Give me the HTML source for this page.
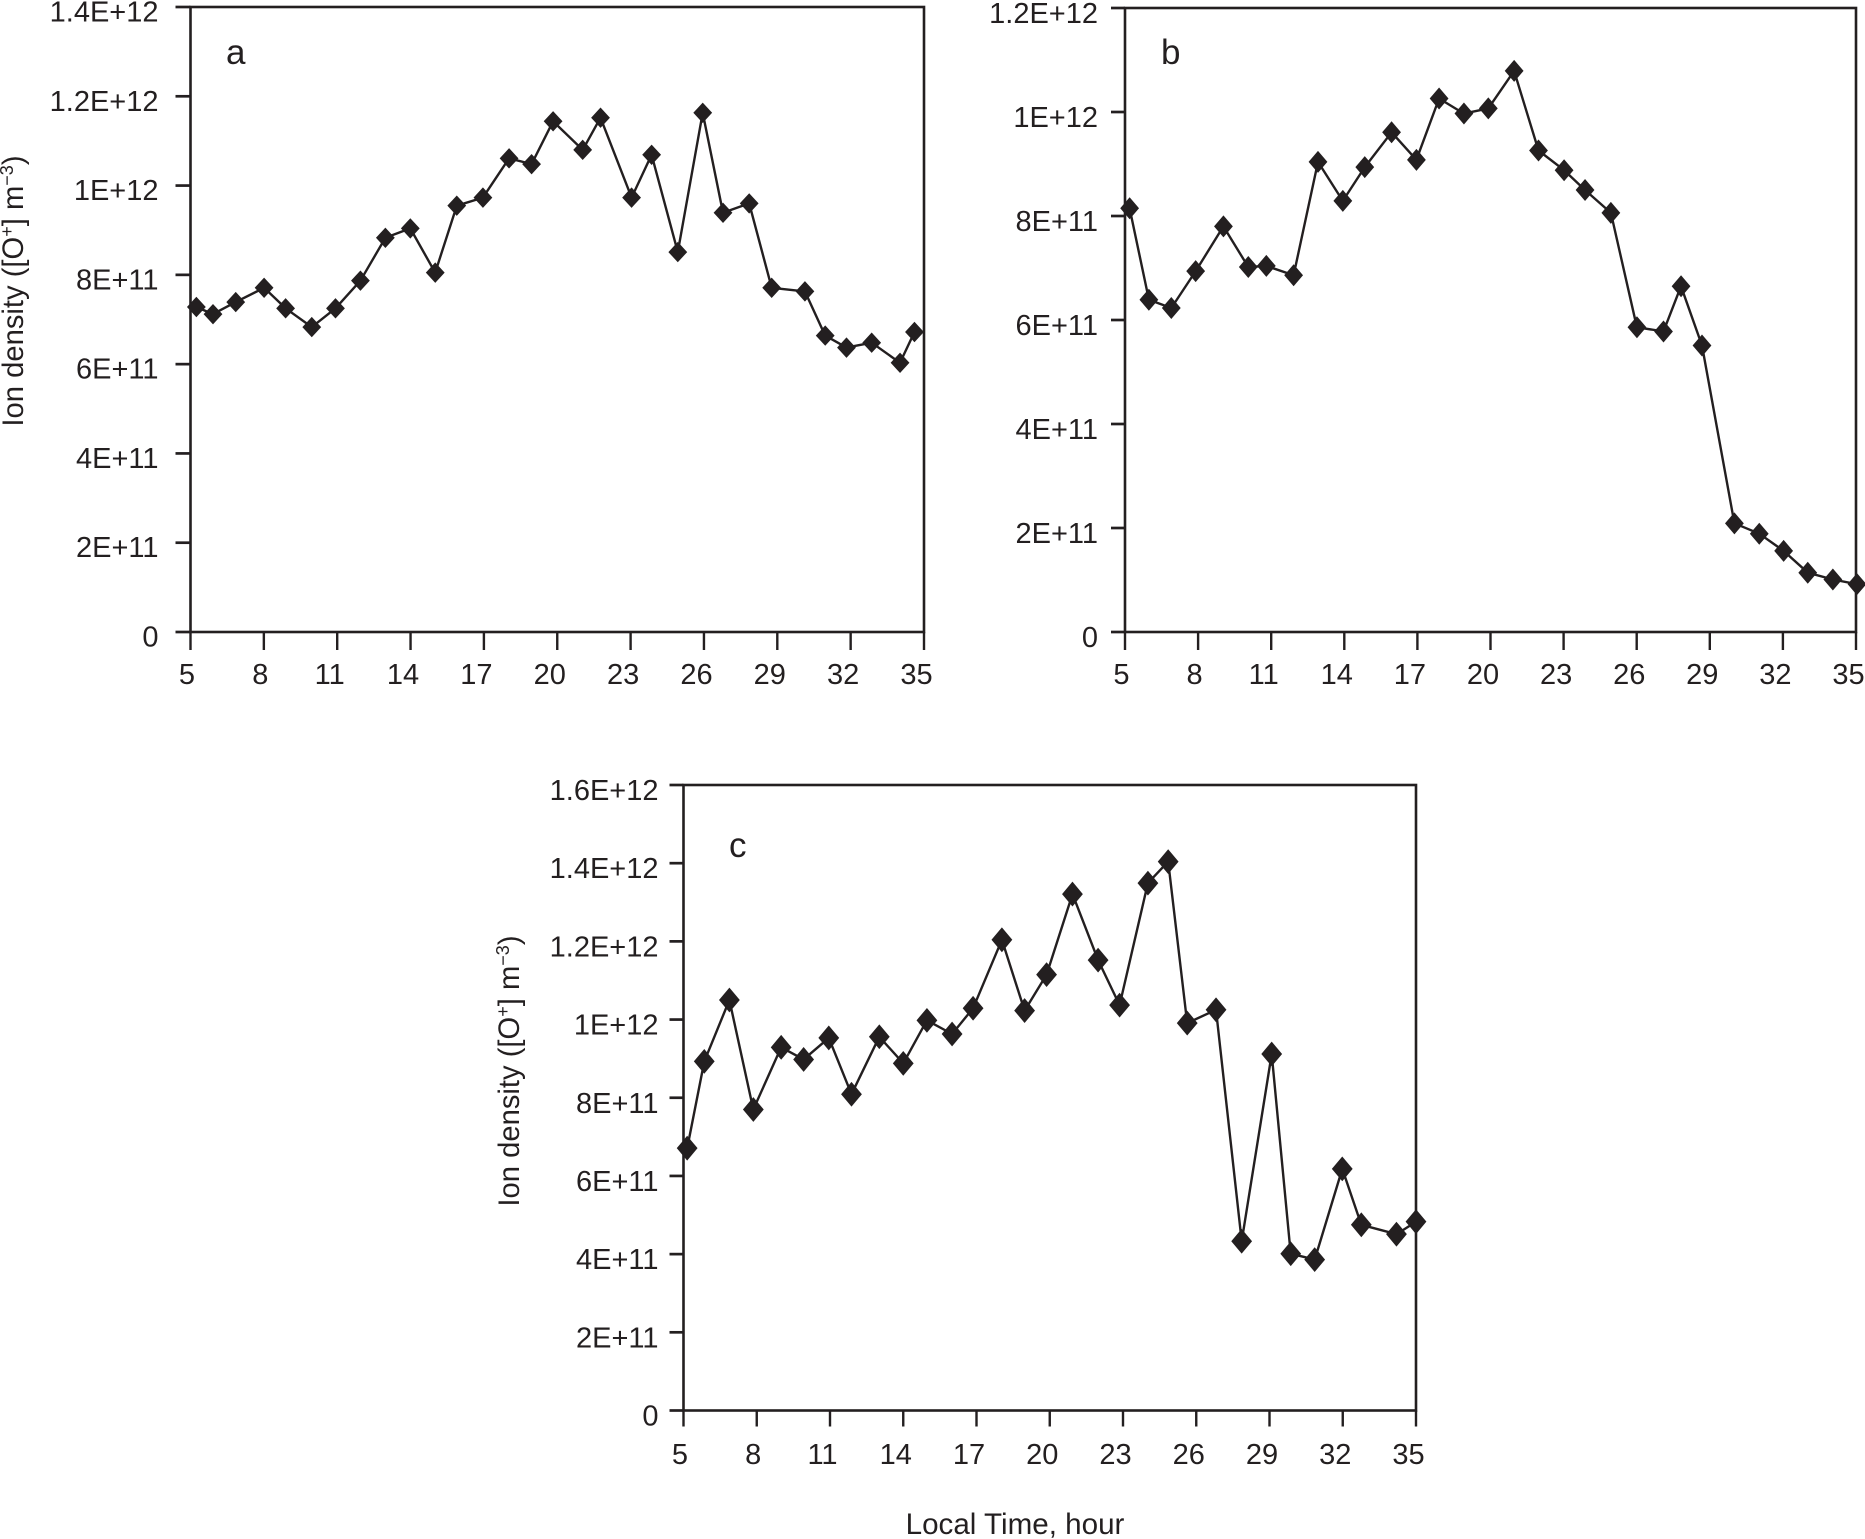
<!DOCTYPE html>
<html lang="en">
<head>
<meta charset="utf-8">
<title>Ion density vs local time</title>
<style>
html,body{margin:0;padding:0;background:#fff;width:1865px;height:1539px;overflow:hidden}
svg{display:block;font-family:"Liberation Sans",Arial,sans-serif;fill:#231f20}
text{fill:#231f20}
</style>
</head>
<body>
<svg id="figure" xmlns="http://www.w3.org/2000/svg" width="1865" height="1539" viewBox="0 0 1865 1539">
<rect x="0" y="0" width="1865" height="1539" fill="#fff"/>
<text transform="translate(23,291) rotate(-90)" text-anchor="middle" font-size="29.2">Ion density ([O<tspan font-size="18" dy="-10">+</tspan><tspan dy="10">] m</tspan><tspan font-size="18" dy="-10">−3</tspan><tspan dy="10">)</tspan></text>
<text transform="translate(519,1071) rotate(-90)" text-anchor="middle" font-size="29.2">Ion density ([O<tspan font-size="18" dy="-10">+</tspan><tspan dy="10">] m</tspan><tspan font-size="18" dy="-10">−3</tspan><tspan dy="10">)</tspan></text>
<text x="1015" y="1534" text-anchor="middle" font-size="29.6">Local Time, hour</text>
<text x="226" y="64" font-size="35">a</text>
<text x="1161" y="64" font-size="35">b</text>
<text x="729" y="857" font-size="35">c</text>
</svg>
<script>
// Shared x axis
const xTicks = [5, 8, 11, 14, 17, 20, 23, 26, 29, 32, 35];
const xTickLabels = ["5", "8", "11", "14", "17", "20", "23", "26", "29", "32", "35"];

// Panel a (density in units of 1E+11 per m3)
const hoursA = [5.24, 5.92, 6.85, 8.01, 8.89, 9.96, 10.93, 11.95, 12.97, 13.99, 15.01, 15.89, 16.96, 18.03, 18.95, 19.83, 21.04, 21.77, 23.04, 23.86, 24.93, 25.95, 26.78, 27.85, 28.77, 30.13, 30.96, 31.83, 32.86, 34.02, 34.61];
const densityA = [7.28, 7.12, 7.39, 7.71, 7.25, 6.83, 7.25, 7.87, 8.83, 9.04, 8.05, 9.55, 9.73, 10.61, 10.48, 11.44, 10.8, 11.52, 9.73, 10.69, 8.51, 11.63, 9.39, 9.6, 7.71, 7.63, 6.64, 6.37, 6.48, 6.03, 6.72];
const yTicksA = [0, 2, 4, 6, 8, 10, 12, 14];
const yTickLabelsA = ["0", "2E+11", "4E+11", "6E+11", "8E+11", "1E+12", "1.2E+12", "1.4E+12"];

// Panel b
const hoursB = [5.19, 5.98, 6.9, 7.9, 9.04, 10.06, 10.8, 11.92, 12.92, 13.94, 14.84, 15.94, 16.96, 17.89, 18.91, 19.91, 20.97, 21.97, 23.02, 23.88, 24.94, 26.01, 27.1, 27.82, 28.68, 30.01, 31.03, 32.03, 33.02, 34.05, 35.04];
const densityB = [8.15, 6.39, 6.23, 6.94, 7.8, 7.02, 7.04, 6.86, 9.04, 8.29, 8.94, 9.61, 9.08, 10.26, 9.97, 10.07, 10.79, 9.26, 8.88, 8.5, 8.06, 5.86, 5.78, 6.65, 5.51, 2.09, 1.89, 1.56, 1.14, 1.01, 0.92];
const yTicksB = [0, 2, 4, 6, 8, 10, 12];
const yTickLabelsB = ["0", "2E+11", "4E+11", "6E+11", "8E+11", "1E+12", "1.2E+12"];

// Panel c
const hoursC = [5.15, 5.85, 6.88, 7.86, 9, 9.92, 10.95, 11.88, 13.02, 14, 14.97, 16, 16.86, 18.04, 18.97, 19.87, 20.93, 21.98, 22.86, 24.02, 24.85, 25.63, 26.81, 27.86, 29.09, 29.87, 30.85, 31.98, 32.76, 34.2, 35];
const densityC = [6.71, 8.93, 10.5, 7.7, 9.29, 8.98, 9.53, 8.09, 9.56, 8.88, 9.98, 9.63, 10.29, 12.04, 10.23, 11.15, 13.21, 11.52, 10.37, 13.49, 14.04, 9.91, 10.25, 4.33, 9.12, 4.01, 3.86, 6.18, 4.75, 4.51, 4.83];
const yTicksC = [0, 2, 4, 6, 8, 10, 12, 14, 16];
const yTickLabelsC = ["0", "2E+11", "4E+11", "6E+11", "8E+11", "1E+12", "1.2E+12", "1.4E+12", "1.6E+12"];

const SVG_NS = "http://www.w3.org/2000/svg";
const INK = "#231f20";
const figure = document.getElementById("figure");

function make(parent, tag, attrs) {
  const el = document.createElementNS(SVG_NS, tag);
  for (const k in attrs) el.setAttribute(k, attrs[k]);
  parent.appendChild(el);
  return el;
}

function drawPanel(id, box, hours, density, yTicks, yTickLabels, mark) {
  const g = make(figure, "g", {});
  
  

  const xMin = xTicks[0], xMax = xTicks[xTicks.length - 1];
  const yMax = yTicks[yTicks.length - 1];
  const sx = h => box.left + (h - xMin) / (xMax - xMin) * (box.right - box.left);
  const sy = v => box.bottom - v / yMax * (box.bottom - box.top);

  // y ticks and labels
  yTicks.forEach((t, i) => {
    const tick = make(g, "line", { x1: box.left - box.yTick, x2: box.left, y1: sy(t), y2: sy(t), stroke: INK, "stroke-width": 2.7 });
    
    
    const label = make(g, "text", { x: box.left - box.yLabelGap, y: sy(t) + box.yLabelDy, "text-anchor": "end", "font-size": 29 });
    label.textContent = yTickLabels[i];
    
    
  });

  // x ticks and labels
  xTicks.forEach((t, i) => {
    const tick = make(g, "line", { x1: sx(t), x2: sx(t), y1: box.bottom, y2: box.bottom + box.xTick, stroke: INK, "stroke-width": 2.4 });
    
    
    const offset = xTickLabels[i].length > 1 ? -7.5 : -3.5;
    const label = make(g, "text", { x: sx(t) + offset, y: box.xLabelY, "text-anchor": "middle", "font-size": 29 });
    label.textContent = xTickLabels[i];
    
    
  });

  // plot frame
  const frame = make(g, "rect", { x: box.left, y: box.top, width: box.right - box.left, height: box.bottom - box.top, fill: "none", stroke: INK, "stroke-width": 2.6 });
  
  

  // series line
  const pts = hours.map((h, i) => sx(h).toFixed(1) + "," + sy(density[i]).toFixed(1)).join(" ");
  const line = make(g, "polyline", { points: pts, fill: "none", stroke: INK, "stroke-width": 2.4, "stroke-linejoin": "round" });
  
  

  // diamond markers
  hours.forEach((h, i) => {
    const cx = sx(h), cy = sy(density[i]);
    const d = "M" + cx + " " + (cy - mark.h) + "L" + (cx + mark.w) + " " + cy + "L" + cx + " " + (cy + mark.h) + "L" + (cx - mark.w) + " " + cy + "Z";
    const p = make(g, "path", { d: d, fill: INK });
    
    
  });
}

drawPanel("a", { left: 190.5, right: 924, top: 7, bottom: 632, yTick: 15, xTick: 18, yLabelGap: 32, yLabelDy: 14.5, xLabelY: 684 }, hoursA, densityA, yTicksA, yTickLabelsA, { w: 9.4, h: 10.2 });
drawPanel("b", { left: 1125, right: 1856, top: 8, bottom: 632, yTick: 14, xTick: 18, yLabelGap: 27, yLabelDy: 15, xLabelY: 684 }, hoursB, densityB, yTicksB, yTickLabelsB, { w: 9.4, h: 11 });
drawPanel("c", { left: 683.5, right: 1416, top: 785, bottom: 1410.5, yTick: 14, xTick: 16, yLabelGap: 25, yLabelDy: 15, xLabelY: 1464 }, hoursC, densityC, yTicksC, yTickLabelsC, { w: 10.4, h: 12.4 });
</script>
</body>
</html>
